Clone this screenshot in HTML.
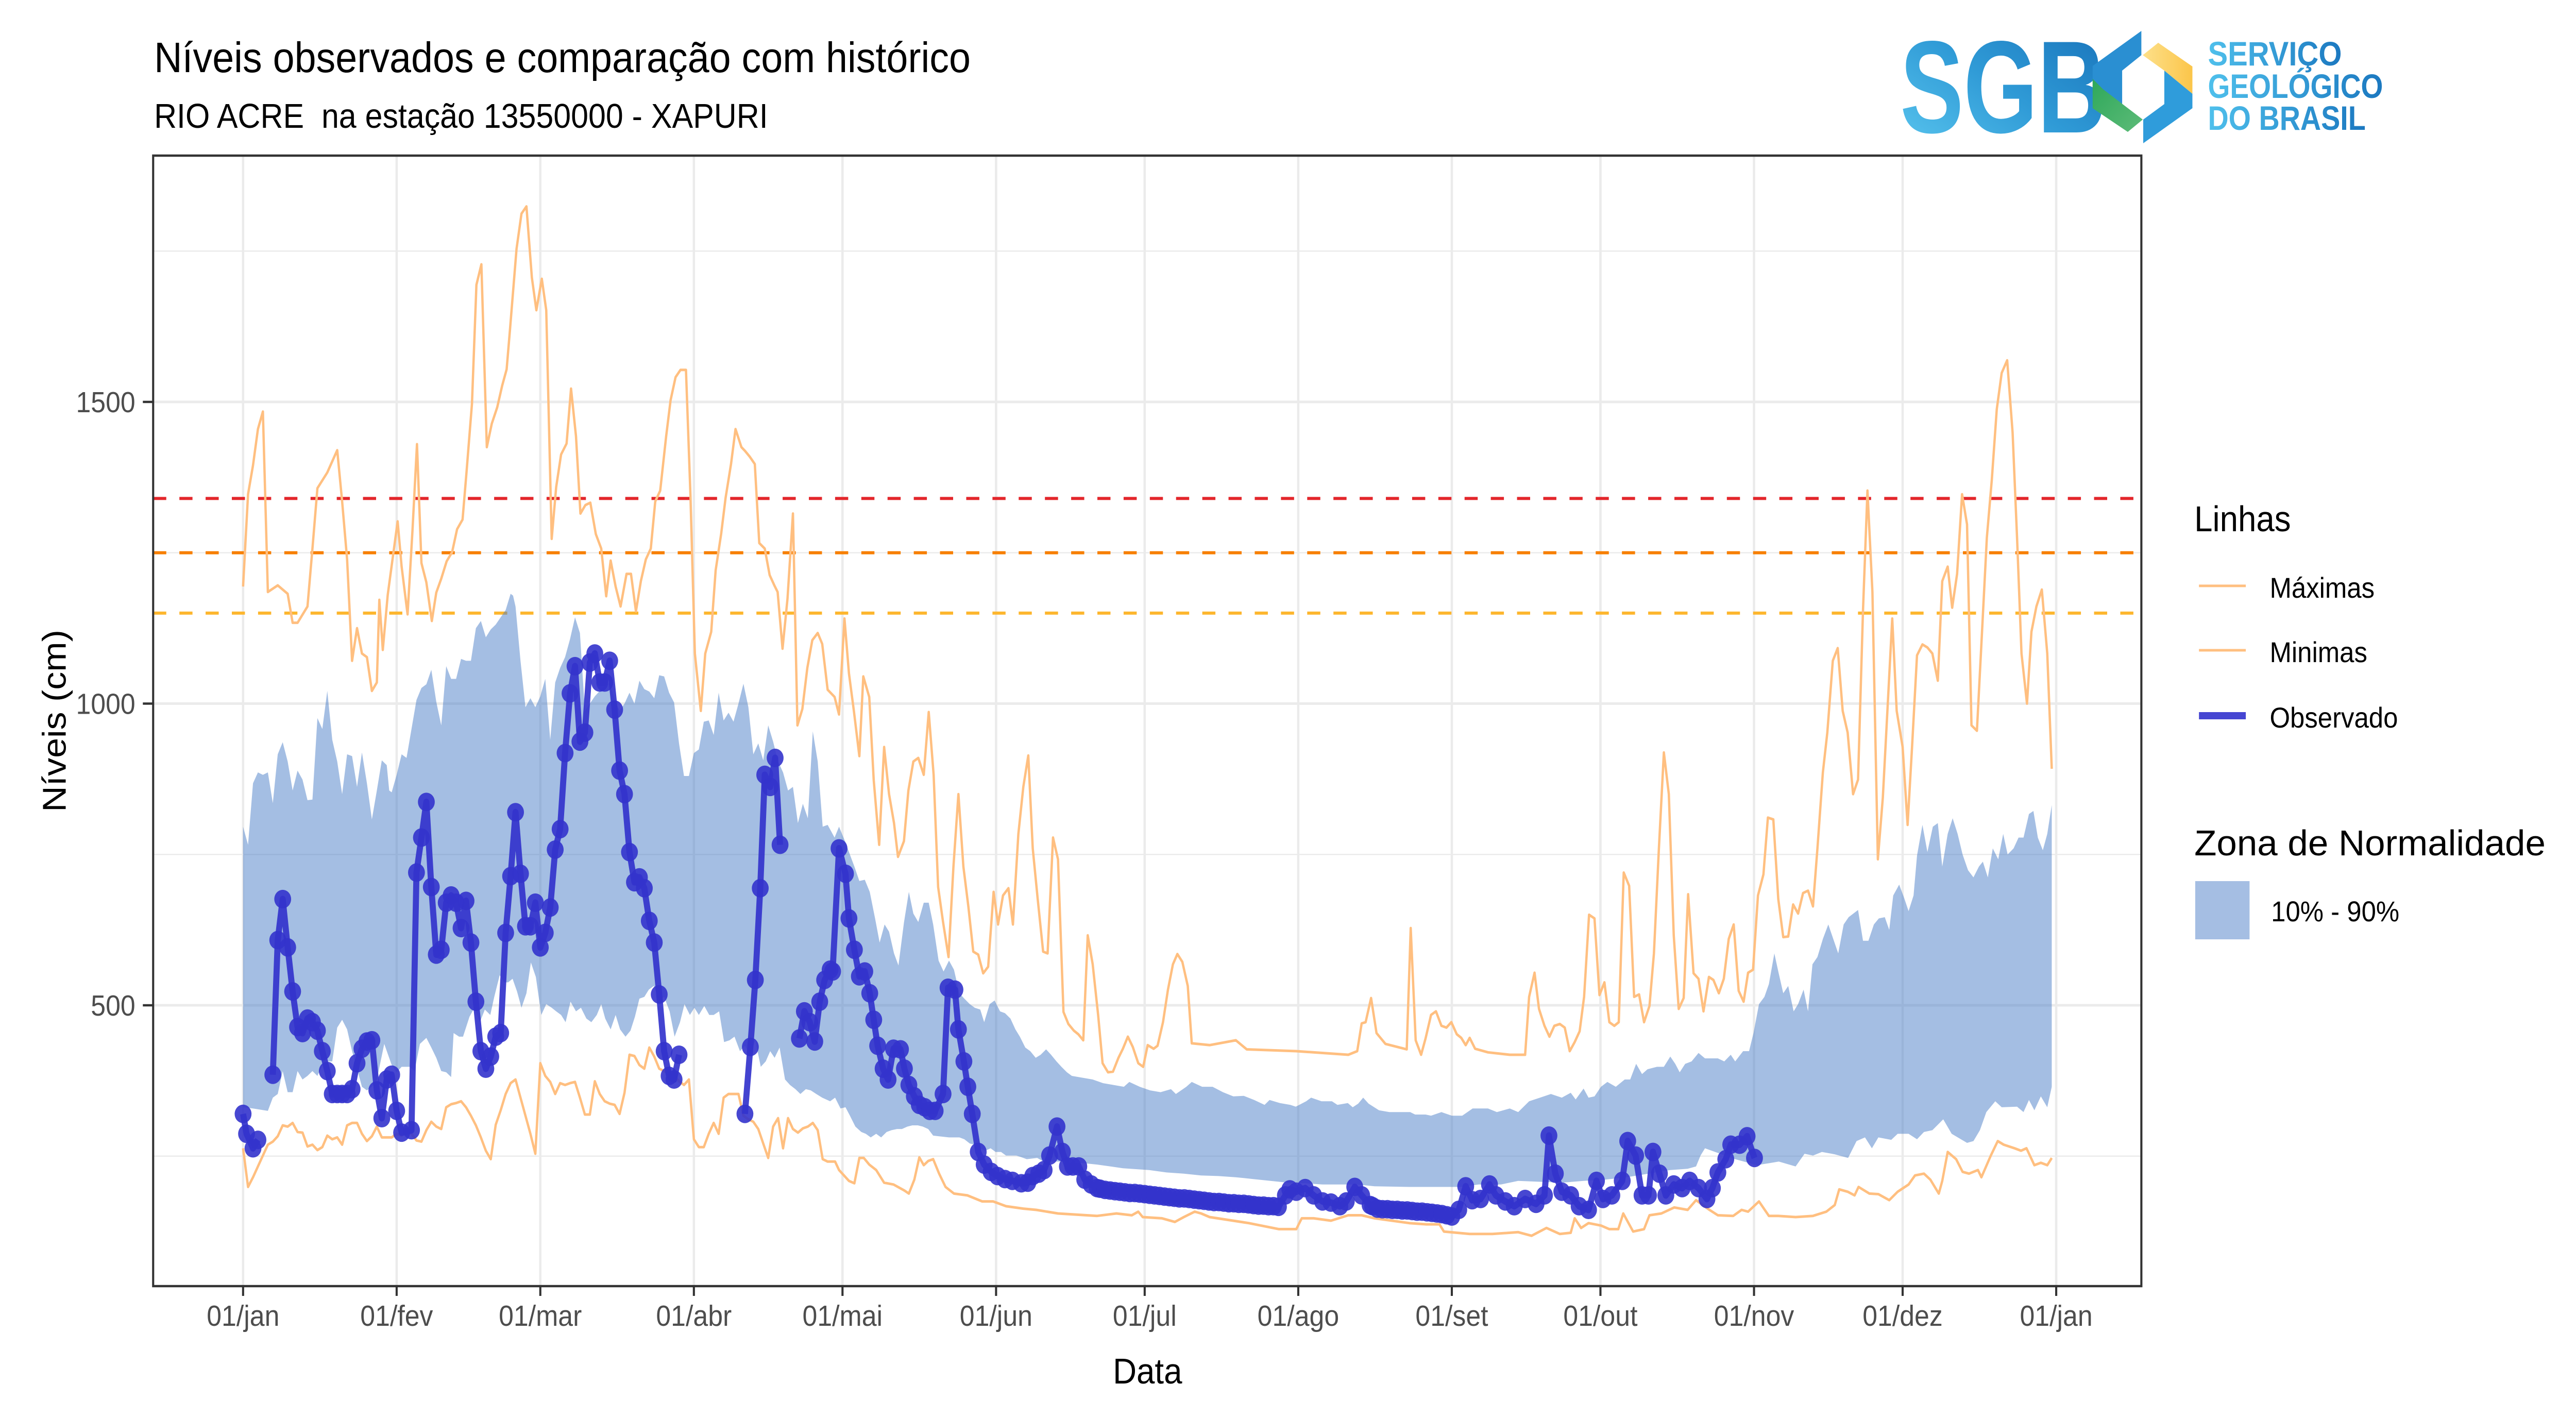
<!DOCTYPE html>
<html><head><meta charset="utf-8"><style>
html,body{margin:0;padding:0;background:#fff;overflow:hidden;width:100vw;height:100vh;}
svg{display:block;width:100%;height:100%;font-family:"Liberation Sans",Arial,sans-serif;}
</style></head><body>
<svg id="chart" viewBox="0 0 5500 2750" preserveAspectRatio="none" xmlns="http://www.w3.org/2000/svg">
<defs>
<clipPath id="panelClip"><rect x="327" y="302" width="4245" height="2194"/></clipPath>
<linearGradient id="sgbGrad" x1="0" y1="1" x2="1" y2="0"><stop offset="0" stop-color="#5cc8f0"/><stop offset="0.5" stop-color="#2f9ad6"/><stop offset="1" stop-color="#1670b8"/></linearGradient>
<linearGradient id="txtGrad" x1="0" y1="0" x2="1" y2="0"><stop offset="0" stop-color="#4fc0ec"/><stop offset="1" stop-color="#1b78c0"/></linearGradient>
<linearGradient id="yelGrad" x1="0" y1="0" x2="1" y2="0"><stop offset="0" stop-color="#fde08a"/><stop offset="1" stop-color="#fbc54a"/></linearGradient>
<linearGradient id="grnGrad" x1="0" y1="0" x2="1" y2="1"><stop offset="0" stop-color="#2ea85a"/><stop offset="1" stop-color="#5dbb78"/></linearGradient>
</defs>
<rect width="5500" height="2750" fill="#fff"/>
<text x="329" y="140" font-size="83" fill="#000">Níveis observados e comparação com histórico</text>
<text x="329" y="248" font-size="67" fill="#000" xml:space="preserve">RIO ACRE  na estação 13550000 - XAPURI</text>

<g>
<text x="4057" y="257" font-size="255" font-weight="bold" fill="url(#sgbGrad)" textLength="440" lengthAdjust="spacingAndGlyphs">SGB</text>
<polygon points="4468,128 4572,60 4572,107 4531,137 4531,203 4468,210" fill="#2a8fd2"/>
<polygon points="4575,107 4608,83 4681,129 4681,182 4621,137" fill="url(#yelGrad)"/>
<polygon points="4621,137 4681,182 4681,210 4576,278 4576,232 4621,202" fill="#2f9cdb"/>
<polygon points="4468,210 4468,153 4490,173 4575,232 4543,256" fill="url(#grnGrad)"/>
<text x="4714" y="127" font-size="66" font-weight="bold" fill="url(#txtGrad)" textLength="286" lengthAdjust="spacingAndGlyphs">SERVIÇO</text>
<text x="4714" y="190" font-size="66" font-weight="bold" fill="url(#txtGrad)" textLength="374" lengthAdjust="spacingAndGlyphs">GEOLÓGICO</text>
<text x="4714" y="252" font-size="66" font-weight="bold" fill="url(#txtGrad)" textLength="337" lengthAdjust="spacingAndGlyphs">DO BRASIL</text>
</g>

<rect x="327" y="302" width="4245" height="2194" fill="#fff"/>
<g id="grid"></g>
<g id="refs" clip-path="url(#panelClip)"></g>
<g id="series" clip-path="url(#panelClip)"></g>
<rect x="327" y="302" width="4245" height="2194" fill="none" stroke="#333" stroke-width="4.5"/>
<g id="axes"></g>

<text x="2450" y="2685" font-size="70" text-anchor="middle" fill="#000">Data</text>
<text x="140" y="1399" font-size="70" text-anchor="middle" fill="#000" transform="rotate(-90 140 1399)">Níveis (cm)</text>

<g>
<text x="4685" y="1031" font-size="70" fill="#000">Linhas</text>
<g>
<line x1="4695" y1="1137" x2="4795" y2="1137" stroke="#ffbf80" stroke-width="5"/>
<text x="4846" y="1160" font-size="56" fill="#000">Máximas</text></g>
<g>
<line x1="4695" y1="1262" x2="4795" y2="1262" stroke="#ffbf80" stroke-width="5"/>
<text x="4846" y="1285" font-size="56" fill="#000">Minimas</text></g>
<g>
<line x1="4695" y1="1389" x2="4795" y2="1389" stroke="#4646d2" stroke-width="14"/>
<text x="4846" y="1412" font-size="56" fill="#000">Observado</text></g>
<text x="4685" y="1660" font-size="70" fill="#000" textLength="750" lengthAdjust="spacingAndGlyphs">Zona de Normalidade</text>
<g>
<rect x="4687" y="1710" width="116" height="113" fill="#a5bee3"/>
<text x="4849" y="1788" font-size="56" fill="#000">10% - 90%</text></g>
</g>
</svg>
<script>
const xTickDays = [0,31,60,91,121,152,182,213,244,274,305,335,366];
const xTickLabels = ["01/jan","01/fev","01/mar","01/abr","01/mai","01/jun","01/jul","01/ago","01/set","01/out","01/nov","01/dez","01/jan"];
const yMajorTicks = [500,1000,1500];
const yMinorTicks = [250,750,1250,1750];
const refLevels = [1340,1250,1150];
const refColors = ["#e3262b","#f77f00","#fdb62e"];

const maxDays = [0,1,2,3,4,5,7,9,10,11,13,14,15,17,19,20,21,22,23,24,25,26,27,27.5,28.2,29.2,31.2,32,33.2,34.2,35.1,36,37,38.1,39,40,41.1,42.2,43.2,44.3,45.1,46.2,47.1,48.1,49.2,50.2,51.3,52.3,53.2,53.9,55.2,56.2,57.2,58.3,59.2,60.3,61.2,62.3,63.2,64.2,65.3,66.2,67.2,68.1,69.1,70.1,71.2,72.3,73.3,74.2,75.2,76.2,77.4,78.3,79.3,80.3,81.3,82.3,83.2,84.2,85.4,86.3,87.3,88.3,89.4,90.3,91.2,92.4,93.3,94.5,95.4,96.5,97.4,98.5,99.4,100.6,101.3,102.3,103.3,104.2,105.3,106.3,107.3,107.9,108.9,109.9,111,111.9,112.9,113.9,114.9,116,116.9,118,
119.4,120.3,121.4,122.3,123.3,124.4,125.2,126.4,127.3,128.4,129.4,130.4,131.4,132.2,133.4,134.3,135.3,136.3,137.4,138.4,139.4,140.3,141.3,142.4,143.4,144.4,145.4,146.4,147.4,148.4,149.4,150.4,151.5,152.4,153.4,154.5,155.4,156.5,157.5,158.5,159.4,160.4,161.5,162.4,163.5,164.5,165.6,166.6,167.7,168.6,169.6,170.5,171.5,172.6,173.5,174.6,175.6,176.7,177.6,178.6,179.6,180.7,181.7,182.6,183.8,184.6,185.7,186.7,187.7,188.6,189.6,190.7,191.5,195.1,200.4,202.6,212.6,223.1,224.9,225.8,226.6,227.7,228.8,230.6,234.9,235.7,236.7,237.8,238.7,239.8,240.8,241.9,242.9,243.9,245,245.9,246.8,247.6,248.7,
251.3,255.7,258.8,259.6,260.7,261.6,262.7,263.7,264.7,265.8,266.8,267.8,268.8,269.8,270.7,271.7,272.8,273.8,274.8,275.8,276.8,277.7,278.7,279.8,280.8,281.8,282.8,283.9,284.8,285.8,286.8,287.8,288.8,289.8,290.8,291.7,292.8,293.8,294.8,295.9,296.8,297.9,298.9,299.9,300.9,301.9,302.9,303.8,304.8,305.8,306.9,307.8,308.9,309.9,310.9,311.9,312.9,313.9,314.9,315.9,316.9,317.8,318.9,319.8,320.9,321.9,322.9,323.9,325,326,327,327.9,328.9,330,331,332,332.9,333.8,335,336,336.9,337.9,339,340,341,342.1,343,344.1,345,346,347,348,348.9,350,351.1,352,353,354,355,356.1,357.2,358.1,359,360.1,361,362,363.1,364.2,365.1];
const maxVals = [1194,1347,1395,1455,1484,1185,1196,1182,1134,1134,1161,1257,1357,1383,1420,1335,1239,1071,1125,1083,1077,1021,1035,1172,1089,1180,1302,1227,1148,1287,1430,1233,1201,1137,1184,1207,1236,1251,1289,1305,1383,1497,1694,1728,1425,1464,1491,1527,1554,1622,1754,1812,1824,1706,1652,1704,1652,1273,1359,1413,1431,1522,1443,1315,1329,1333,1281,1257,1178,1237,1194,1161,1215,1215,1153,1203,1239,1257,1335,1353,1443,1503,1541,1553,1553,1347,1083,988,1083,1119,1221,1281,1341,1397,1455,1425,1419,1409,1397,1266,1257,1213,1195,1185,1091,1174,1315,964,991,1059,1105,1117,1099,1023,
1011,982,1141,1050,988,913,1045,1011,873,766,928,850,802,746,772,856,904,910,882,986,882,696,638,580,730,850,730,664,589,584,553,564,688,634,682,694,634,784,862,914,760,676,589,586,778,742,489,469,458,452,442,616,568,484,404,389,390,413,428,448,431,404,398,434,428,433,472,526,568,585,572,532,437,434,442,427,424,418,424,470,472,512,454,436,427,628,442,418,445,484,490,466,463,472,452,446,434,446,428,
422,418,418,514,554,494,466,448,466,469,463,424,439,457,514,650,644,517,538,472,466,472,720,698,514,518,472,499,586,760,919,850,616,494,512,684,553,544,490,547,542,520,544,610,634,524,506,554,559,682,717,811,808,676,613,614,667,652,686,690,664,760,886,952,1071,1092,988,952,850,874,1155,1353,1185,742,844,1000,1141,988,928,799,928,1080,1098,1093,1083,1038,1203,1227,1159,1215,1347,1297,964,955,1131,1275,1371,1488,1548,1569,1449,1275,1083,1000,1119,1161,1189,1083,892];

const minDays = [0,1,2,3,4,5,6,7,8,9,10,11,12,13,14,15,16,17,18,19,20,21,22,23,24,25,26,27,28,29,30,31,32,33,34,35,36,37,38,39,40,41,42,43,44,45,46,47,48,49,50,51,52,53,54,55,56,57,58,59,60,61,62,63,64,65,66,67,68,69,70,71,72,73,74,75,76,77,78,79,80,81,82,83,84,85,86,87,88,89,90,91,92,93,94,95,96,97,98,99,100,101,102,103,104,105,106,107,108,109,110,111,112,113,114,115,116,117,118,
119.5,120.3,122.3,123.4,124.4,125.3,126.4,127.8,129.4,131.3,133.5,134.4,135.5,136.5,137.4,138.3,139.3,140.5,141.8,143.5,146.2,149.2,151.4,154,157.5,160.1,164.5,172.4,176.3,179.4,180.7,181.6,185.5,188.1,189.9,192.1,193.4,195.1,203,209.1,212.6,213.7,216.1,219.6,223.1,225.8,228.4,235.4,238.9,241.5,242.4,247.6,252.2,257.4,260.1,263.1,265.8,268,268.8,270.1,271.6,274.1,275.8,277.6,278.6,280.6,282.8,283.9,286.3,288.9,291.6,293.3,296,297.7,300.8,302.5,303.8,306,308,309.9,313.4,316.9,319.6,321.3,322.2,323.9,325.3,326.1,328.3,330.1,332.3,334,336.2,337.5,339.3,340.6,342.3,343,344.1,345.8,347.1,348.4,350.2,350.9,352.8,354.2,355.4,357.6,358.9,360,361.6,362.9,364.2,365.1];
const minVals = [263,199,215,233,251,269,274,283,301,299,305,290,289,266,269,260,265,284,278,281,269,301,305,305,287,275,283,299,281,281,281,287,284,293,287,276,274,293,307,299,295,331,336,338,341,331,317,301,281,259,245,302,326,353,371,377,347,317,287,254,404,383,373,353,371,368,371,373,347,319,319,374,353,341,337,335,320,355,418,416,401,395,430,415,395,391,386,383,374,368,377,278,265,265,287,305,287,347,353,353,353,317,311,307,295,271,247,299,313,263,313,295,289,296,299,305,293,245,241,
241,227,209,205,247,247,236,227,206,203,193,188,211,248,235,242,245,221,199,188,185,175,175,167,163,161,155,151,155,152,158,149,147,141,149,158,155,149,139,129,129,147,147,143,152,152,147,139,137,137,125,121,121,124,118,131,121,123,147,131,139,135,129,129,155,125,129,152,155,165,161,177,161,152,151,161,158,175,151,151,149,151,158,169,195,191,185,199,188,187,177,191,203,218,221,211,188,209,257,245,224,221,227,215,251,275,269,263,259,263,235,239,235,247];

const p90Days = [0,1,2,3,4,5,6,7,8,9,10,11,12,13,14,15,16,17,18,19,20,21,22,23,24,25,26,27,28,29,29.5,30,31,32,33,34,35,36,37,38,39,40,41,42,43,44,45,46,47,48,49,50,51,52,53,54,54.5,55,56,57,58,59,60,61,62,63,64,65,66,67,68,69,70,71,72,73,74,75,76,77,78,79,80,81,82,83,84,85,86,87,88,89,90,91,92,93,94,95,96,97,98,99,100,101,102,103,104,105,106,107,108,109,110,111,112,113,114,115,116,117,118,
119.4,120.3,121.5,122.3,123.4,124.4,125.5,126.5,127.6,128.5,129.5,130.4,131.4,132.3,133.4,134.4,135.3,136.3,137.4,138.4,139.3,140.4,141.4,142.5,143.5,144.6,145.6,146.7,147.7,148.8,149.6,150.7,151.7,152.8,153.8,154.9,155.9,156.8,157.9,158.9,160,161,162.1,163.1,164.2,165.2,166.3,167.3,169.4,171.5,173.6,175.7,177.8,178.9,181,183.1,185.2,187.3,188.3,190.4,191.5,193.6,195.7,197.8,199.9,202,204.1,206.2,207.2,209.3,211.4,212.5,214.6,215.6,217.7,219.8,220.9,223,224,225.1,226.1,227.2,229.3,231.4,233.5,235.6,236.6,238.7,239.8,241.9,244,246.1,248.2,
251.3,253.1,255.7,257.4,259.6,261.8,264,266.2,268,269,270.6,271.6,272.8,274.1,275.4,277.1,278.9,280,281.2,282.4,283.5,285.4,286.8,288.1,289.1,290,291.1,292.4,293.8,295.1,297.7,299,300.3,301.2,302.8,304,304.9,306,307.1,308,309.1,309.9,310.9,311.9,313,313.9,315,315.9,316.8,317.8,318.9,320,321,322,323.1,324.1,326,327,328.1,329.2,330.2,331.4,332.3,333.1,334.3,335.3,336.2,337.2,337.9,339,340,341.1,342.1,343,344.1,345.1,346.1,347.1,348.2,349.3,350.4,351.2,352.2,353.2,354.3,355.3,356.2,357.4,358.4,359.4,360.5,361.4,362.3,363.3,364.2,365.1];
const p90Vals = [796,766,868,886,882,886,835,916,936,904,856,889,874,840,841,976,958,1021,940,904,850,916,913,862,919,868,808,856,906,898,856,853,882,916,910,958,1006,1026,1032,1056,1003,964,1062,1041,1041,1074,1071,1071,1125,1137,1110,1123,1131,1143,1155,1182,1179,1161,1071,994,1009,994,1012,1041,940,1035,1059,1077,1107,1143,1117,988,1000,1012,1021,1029,1035,1006,988,1000,1018,1000,1038,1024,1020,1009,1047,1045,1018,1002,934,880,880,918,924,970,972,948,1018,972,985,970,1000,1033,994,916,934,906,964,937,904,886,856,862,802,834,810,954,904,796,799,
778,796,772,754,730,706,708,688,643,604,634,622,586,566,637,688,652,638,670,670,634,574,556,574,559,520,511,502,496,493,472,502,508,490,487,478,460,448,430,424,413,418,427,418,407,398,389,383,380,377,371,368,365,373,365,359,356,361,353,365,373,365,365,356,349,350,343,335,343,338,335,332,341,347,341,341,335,338,331,337,347,337,326,323,323,323,319,319,317,323,317,317,329,
329,323,329,323,341,347,353,347,355,344,362,347,349,365,373,365,377,377,403,386,394,398,398,415,403,389,403,407,421,412,412,407,418,407,424,424,454,502,514,535,586,556,520,532,490,502,526,490,568,580,610,634,610,586,634,646,658,607,607,634,644,646,625,682,700,678,656,682,748,799,754,796,802,730,784,810,784,750,724,712,730,738,712,760,742,784,750,760,778,778,817,822,778,757,784,832];

const p10Days = [0,2,5,6,7,8,9,10,11,12,13,14,15,16,17,18,19,20,21,22,23,24,25,26,27,28.5,30,31,32,33.6,34.6,35.7,37,38,39,40,41,42,42.5,43.6,44.4,45.7,46.7,47.8,48.8,49.9,50.7,51.8,52.7,53.5,54.4,55.3,56.2,57.2,58.1,59.1,60.2,61.2,62.3,63.2,64.2,65.1,66.1,67.2,68.2,69.3,70.3,71.4,72.3,73.1,74.2,75.2,76.1,77.2,78.2,79.1,80,81,81.9,82.9,84,85,86.1,87.1,88.2,89.1,90.2,91.1,92,93.1,94.1,95,96.1,97.1,98.2,99.2,100.3,101.3,102.4,103.4,104.5,105.5,106.4,107.3,108.3,109.4,110.4,111.5,112.5,113.6,114.6,115.7,116.9,
118.5,119.5,120.6,121.6,122.5,123.6,124.8,125.7,126.7,127.8,128.8,129.9,130.9,132,133,134.1,135.1,136.2,137.2,138.3,139.3,140.4,142.5,144.6,145.6,146.7,147.7,148.8,149.8,150.9,151.9,153,154,156.1,157.2,158.2,160.3,161.4,163.5,165.6,166.6,168.9,172.4,177.6,182.9,186.4,189.9,193.4,196.9,200.4,203.9,207.4,210.9,214.4,217.9,224.9,228.4,235.4,245.9,249.4,
250.5,253.9,257.4,266.2,270.6,274.9,279.3,283.7,288.1,291.6,293.3,294.2,295.1,301.2,305.6,310,313.4,315.2,316.9,318.7,321.3,324,325.7,327.4,328.8,330.1,332.7,334,336.2,337.9,339.3,341,343.2,344.9,348,349.3,350.6,351.9,353.7,355,358.1,359.4,360.5,361.6,362.9,364.2,365.1];
const p10Vals = [331,329,325,347,353,391,356,356,391,377,383,391,383,401,407,407,463,476,460,424,395,365,359,365,377,436,401,389,398,398,391,436,446,430,413,391,389,381,454,448,448,481,496,472,493,484,514,550,538,538,544,523,496,520,571,547,484,502,496,490,484,472,506,490,496,478,472,484,502,478,460,484,460,448,458,481,511,514,526,532,508,514,490,448,472,502,484,496,484,499,484,484,490,439,442,448,424,433,418,442,398,407,424,413,430,377,368,361,353,361,359,353,347,
341,347,329,331,317,299,290,287,281,287,281,290,293,295,295,299,301,301,299,295,284,283,281,281,278,271,269,263,259,263,257,257,251,251,248,245,247,242,241,241,239,239,236,230,227,223,221,218,217,215,212,209,206,205,203,203,200,199,199,203,
203,203,209,206,209,211,215,221,227,229,233,251,263,245,235,241,233,254,251,257,253,247,275,281,263,281,277,287,287,278,290,293,311,287,272,275,293,323,341,331,332,323,343,326,349,331,365];

const obsDays = [0,0.7,2,3,null,6,7,8,9,10,11,12,13,14,15,16,17,18,19,20,21,22,23,24,25,26,27,28,29,30,31,32,34,35,36,37,38,39,40,41,42,43,44,45,46,47,48,49,50,51,52,53,54,55,56,57,58,59,60,61,62,63,64,65,66,67,68,69,70,71,72,73,74,75,76,77,78,79,80,81,82,83,84,85,86,87,88,null,
101.3,102.4,103.4,104.4,105.3,106.4,107.4,108.4,null,
112.3,113.3,114.4,115.4,116.4,117.4,118.5,119,120.3,121.6,122.3,123.4,124.4,125.5,126.5,127.3,128.1,129.2,130.2,131.3,132.7,133.5,134.4,135.5,136.5,137.6,138.6,139.7,141.3,142.3,143.7,144.4,145.5,146.3,147.2,148.4,149.6,151,152.3,153.8,155.3,157.1,158.4,159.4,160.6,161.7,162.8,164.3,165.4,166.4,167.5,168.7,169.9,171.2,172.4,
173,174,175,176,177,178,179,180,181,182,183,184,185,186,187,188,189,190,191,192,193,194,195,196,197,198,199,200,201,202,203,204,205,206,207,208,209,
210.4,211.3,212.6,214.4,216.1,217.9,219.6,221.4,222.7,224.4,225.8,227.5,
228,229,230,231,232,233,234,235,236,237,238,239,240,241,242,243,244,
245.4,246.8,248.1,249.8,251.6,252.9,254.8,256.6,258.8,261,262.7,263.6,264.9,266.2,268,269.7,271.6,273.2,274.5,276.3,278.4,279.5,281.1,282.4,283.7,284.6,285.9,287.2,288.8,290.5,292,293.8,295.5,296.6,297.7,299.3,300.3,302.1,303.6,305.1];
const obsVals = [320,287,263,277,null,385,608,676,596,523,464,454,478,472,458,424,391,353,353,353,353,361,404,428,440,442,359,313,377,385,325,289,293,720,778,837,696,584,592,670,682,670,628,673,604,506,424,395,415,448,454,620,714,820,718,631,631,670,596,620,662,758,792,918,1017,1062,937,952,1068,1083,1035,1035,1071,990,889,850,754,704,712,694,640,604,518,424,383,377,418,null,
320,431,542,694,882,862,910,766,null,
445,490,472,440,506,542,559,556,760,718,644,592,548,556,520,476,433,395,377,428,427,395,368,349,335,331,325,325,353,529,526,460,407,365,320,257,236,224,217,212,209,205,206,217,221,227,251,299,257,233,233,233,211,203,197,
196,194,193,192,191,190,189,189,188,187,186,185,184,183,182,181,180,180,179,178,177,176,175,174,174,173,172,172,171,171,170,169,168,168,167,167,166,
185,195,191,197,185,175,173,167,175,199,185,169,
167,163,162,162,161,161,160,160,159,158,158,157,156,155,154,152,150,
161,200,177,179,203,185,175,167,179,171,185,284,221,191,185,167,161,209,179,185,209,275,251,185,185,257,221,185,203,197,209,197,179,197,223,245,269,269,283,247];

const NS = "http://www.w3.org/2000/svg";
const X0 = 519, XS = 10.577, Y1500 = 780, YS = 1.171;
function xs(d){ return X0 + d * XS; }
function ys(v){ return Y1500 + (1500 - v) * YS; }
function mk(tag, attrs, parent){
  const el = document.createElementNS(NS, tag);
  for (const k in attrs) el.setAttribute(k, attrs[k]);
  parent.appendChild(el);
  return el;
}
function pts(days, vals){
  const n = Math.min(days.length, vals.length);
  const out = [];
  for (let i = 0; i < n; i++) out.push(xs(days[i]).toFixed(1) + "," + ys(vals[i]).toFixed(1));
  return out;
}
const grid = document.getElementById("grid");
const refs = document.getElementById("refs");
const series = document.getElementById("series");
const axes = document.getElementById("axes");

yMinorTicks.forEach(v => {
  const l = mk("line", {x1:327, x2:4572, y1:ys(v), y2:ys(v), stroke:"#ebebeb", "stroke-width":2.5}, grid);
  
  
});
yMajorTicks.forEach(v => {
  const l = mk("line", {x1:327, x2:4572, y1:ys(v), y2:ys(v), stroke:"#ebebeb", "stroke-width":5}, grid);
  
  
  const t = mk("line", {x1:305, x2:327, y1:ys(v), y2:ys(v), stroke:"#333", "stroke-width":4.5}, axes);
  
  
  const tx = mk("text", {x:289, y:ys(v) + 20, "font-size":57, fill:"#4d4d4d", "text-anchor":"end"}, axes);
  tx.textContent = String(v);
  
  
});
xTickDays.forEach((d, i) => {
  const l = mk("line", {x1:xs(d), x2:xs(d), y1:302, y2:2496, stroke:"#ebebeb", "stroke-width":5}, grid);
  
  
  const t = mk("line", {x1:xs(d), x2:xs(d), y1:2496, y2:2515, stroke:"#333", "stroke-width":4.5}, axes);
  
  
  const tx = mk("text", {x:xs(d), y:2573, "font-size":57, fill:"#4d4d4d", "text-anchor":"middle"}, axes);
  tx.textContent = xTickLabels[i];
  
  
});
refLevels.forEach((v, i) => {
  const l = mk("line", {x1:327, x2:4572, y1:ys(v), y2:ys(v), stroke:refColors[i], "stroke-width":6, "stroke-dasharray":"28 28"}, refs);
  
  
});

const upper = pts(p90Days, p90Vals);
const lower = pts(p10Days, p10Vals).reverse();
const band = mk("polygon", {points: upper.concat(lower).join(" "), fill:"#4a7dc8", "fill-opacity":0.5}, series);



const maxLine = mk("polyline", {points: pts(maxDays, maxVals).join(" "), fill:"none", stroke:"#ffbf80", "stroke-width":5, "stroke-linejoin":"round"}, series);


const minLine = mk("polyline", {points: pts(minDays, minVals).join(" "), fill:"none", stroke:"#ffbf80", "stroke-width":5, "stroke-linejoin":"round"}, series);



let seg = [];
const segs = [];
for (let i = 0; i < obsDays.length; i++) {
  if (obsDays[i] === null || obsVals[i] === null) { if (seg.length) segs.push(seg); seg = []; }
  else seg.push([obsDays[i], obsVals[i]]);
}
if (seg.length) segs.push(seg);
segs.forEach(s => {
  const pl = mk("polyline", {points: s.map(p => xs(p[0]).toFixed(1) + "," + ys(p[1]).toFixed(1)).join(" "), fill:"none", stroke:"#3333cc", "stroke-width":13, "stroke-linejoin":"round", "stroke-opacity":0.92}, series);
  
  
});
segs.forEach(s => s.forEach(p => {
  const c = mk("circle", {cx: xs(p[0]).toFixed(1), cy: ys(p[1]).toFixed(1), r: 18, fill:"#3333cc", "fill-opacity":0.9}, series);
  
  
}));
</script>
</body></html>
